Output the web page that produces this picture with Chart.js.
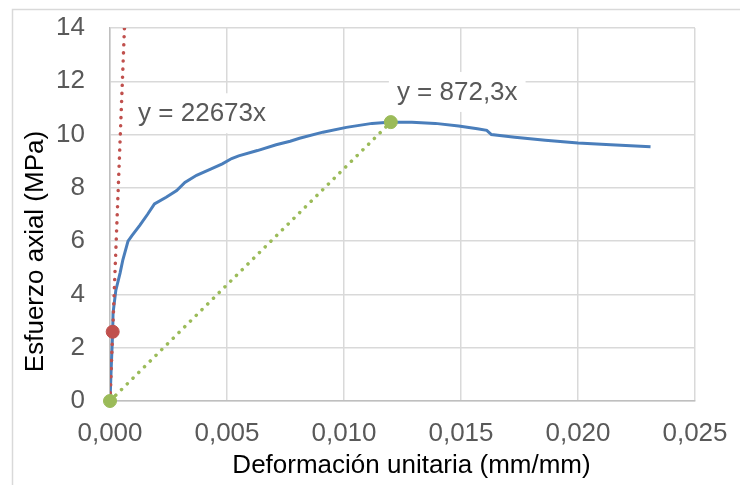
<!DOCTYPE html>
<html>
<head>
<meta charset="utf-8">
<script src="https://cdn.jsdelivr.net/npm/chart.js@4.4.1/dist/chart.umd.min.js"></script>
<style>
  body { margin: 0; background: #fff; }
  canvas { display: block; }
</style>
</head>
<body>
<canvas id="chart" width="740" height="485"></canvas>
<script>
// ensayo: deformacion unitaria vs esfuerzo axial
const strain = [0, 0.00005, 0.000115, 0.00013, 0.00025, 0.00043, 0.00055, 0.00077, 0.00093, 0.00128,
  0.0016, 0.0019, 0.0024, 0.00285, 0.0032, 0.0037, 0.0043, 0.0048, 0.0052, 0.0055,
  0.0063, 0.0071, 0.0077, 0.0081, 0.0091, 0.0101, 0.0112, 0.0119, 0.0129, 0.0139,
  0.0149, 0.0157, 0.0161, 0.0163, 0.0173, 0.0186, 0.0200, 0.0214, 0.0231]
const stress = [0, 1.2, 2.6, 3.3, 4.16, 4.8, 5.3, 6.0, 6.2, 6.6,
  7.0, 7.4, 7.65, 7.9, 8.2, 8.47, 8.7, 8.9, 9.1, 9.2,
  9.4, 9.62, 9.75, 9.86, 10.09, 10.27, 10.42, 10.46, 10.46, 10.42,
  10.32, 10.22, 10.16, 10.0, 9.9, 9.79, 9.68, 9.62, 9.54]

// lineas de tendencia (pendientes)
const slopeElastic = 22673
const slopeSecant = 872.3
const elasticX = [0, 14 / slopeElastic]
const secantX = [0, 0.012]

// puntos marcados
const redPoints = [[0.000115, 2.6]]
const greenPoints = [[0, 0], [0.012, 0.012 * slopeSecant]]

const xTicks = [0, 0.005, 0.010, 0.015, 0.020, 0.025]
const yTicks = [0, 2, 4, 6, 8, 10, 12, 14]

const xTitle = 'Deformación unitaria (mm/mm)'
const yTitle = 'Esfuerzo axial (MPa)'

const labels = [
  { text: 'y = 22673x', x: 0.0012, y: 10.8 },
  { text: 'y = 872,3x', x: 0.01226, y: 11.6 }
]

const FONT = "'Liberation Sans', Arial, sans-serif"
Chart.defaults.font.family = FONT

function toPts(xs, ys) {
  return xs.map((x, i) => ({ x: x, y: ys[i] }))
}

const eqLabels = {
  id: 'eqLabels',
  afterDatasetsDraw(chart) {
    const ctx = chart.ctx
    const xs = chart.scales.x, ys = chart.scales.y
    ctx.save()
    ctx.font = '26px ' + FONT
    ctx.textBaseline = 'middle'
    labels.forEach(l => {
      const px = xs.getPixelForValue(l.x)
      const py = ys.getPixelForValue(l.y)
      const w = ctx.measureText(l.text).width
      ctx.fillStyle = '#fff'
      ctx.fillRect(px - 8, py - 20, w + 16, 40)
      ctx.fillStyle = '#595959'
      ctx.fillText(l.text, px, py + 1)
    })
    ctx.restore()
  }
}

// axis titles, placed like the spreadsheet does (a bit off the plot centre)
const axisTitles = {
  id: 'axisTitles',
  afterDraw(chart) {
    const ctx = chart.ctx
    const a = chart.chartArea
    ctx.save()
    ctx.font = '26px ' + FONT
    ctx.fillStyle = '#000'
    ctx.textAlign = 'center'
    ctx.textBaseline = 'middle'
    ctx.fillText(xTitle, (a.left + a.right) / 2 + 9, 466)
    ctx.translate(36, (a.top + a.bottom) / 2 + 37)
    ctx.rotate(-Math.PI / 2)
    ctx.fillText(yTitle, 0, 0)
    ctx.restore()
  }
}

const frame = {
  id: 'frame',
  beforeDraw(chart) {
    const ctx = chart.ctx
    ctx.save()
    ctx.fillStyle = '#fff'
    ctx.fillRect(0, 0, chart.width, chart.height)
    ctx.strokeStyle = '#d9d9d9'
    ctx.lineWidth = 1.5
    ctx.strokeRect(12.5, 9.5, 800, 600)
    ctx.restore()
  }
}

const dotted = {
  showLine: true,
  borderWidth: 3.5,
  borderDash: [0.1, 8],
  borderCapStyle: 'round',
  pointRadius: 0
}

let ctx = document.getElementById('chart').getContext('2d')
const myChart = new Chart(ctx, {
  type: 'scatter',
  data: {
    datasets: [
      {
        label: 'ensayo',
        data: toPts(strain, stress),
        showLine: true,
        borderColor: '#4a7ebb',
        borderWidth: 3,
        pointRadius: 0,
        tension: 0,
        order: 4
      },
      Object.assign({
        label: 'elastica',
        data: elasticX.map(x => ({ x: x, y: x * slopeElastic })),
        borderColor: '#c0504d',
        order: 3
      }, dotted),
      Object.assign({
        label: 'secante',
        data: secantX.map(x => ({ x: x, y: x * slopeSecant })),
        borderColor: '#9bbb59',
        order: 2
      }, dotted),
      {
        label: 'punto rojo',
        data: redPoints.map(p => ({ x: p[0], y: p[1] })),
        backgroundColor: '#c0504d',
        borderColor: '#c0504d',
        pointRadius: 6.5,
        clip: false,
        order: 1
      },
      {
        label: 'puntos verdes',
        data: greenPoints.map(p => ({ x: p[0], y: p[1] })),
        backgroundColor: '#9bbb59',
        borderColor: '#9bbb59',
        pointRadius: 6.5,
        clip: false,
        order: 0
      }
    ]
  },
  options: {
    responsive: false,
    animation: false,
    layout: { padding: { left: 12, top: 28, right: 45, bottom: 0 } },
    plugins: {
      legend: { display: false },
      tooltip: { enabled: false }
    },
    scales: {
      x: {
        type: 'linear',
        min: 0,
        max: 0.025,
        afterBuildTicks: s => { s.ticks = xTicks.map(v => ({ value: v })) },
        // fixed height, and no extra room for the end labels
        afterFit: s => { s.height = 84; s.paddingLeft = 0; s.paddingRight = 0 },
        ticks: {
          padding: 17,
          color: '#595959',
          font: { size: 26 },
          maxRotation: 0,
          callback: v => v.toFixed(3).replace('.', ',')
        },
        grid: { color: '#d9d9d9', lineWidth: 1.5, drawTicks: false },
        border: { color: '#bfbfbf', width: 1.5 }
      },
      y: {
        min: 0,
        max: 14,
        afterBuildTicks: s => { s.ticks = yTicks.map(v => ({ value: v })) },
        afterFit: s => { s.width = 98; s.paddingTop = 0; s.paddingBottom = 0 },
        ticks: {
          padding: 25,
          color: '#595959',
          font: { size: 26 }
        },
        grid: { color: '#d9d9d9', lineWidth: 1.5, drawTicks: false },
        border: { color: '#bfbfbf', width: 1.5 }
      }
    }
  },
  plugins: [frame, eqLabels, axisTitles]
})
</script>
</body>
</html>
